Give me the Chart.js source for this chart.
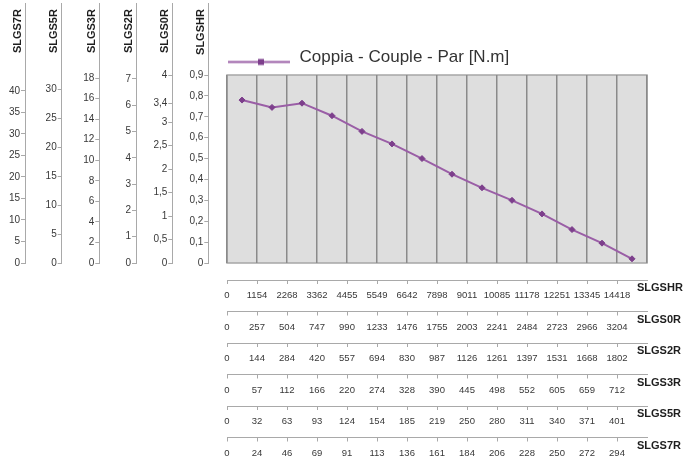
<!DOCTYPE html>
<html><head><meta charset="utf-8">
<script src="https://cdn.jsdelivr.net/npm/chart.js@4/dist/chart.umd.min.js"></script>
<style>
html,body{margin:0;padding:0;background:#fff;width:684px;height:461px;overflow:hidden;position:relative}
canvas{position:absolute}
#ca{left:0;top:-5px}
#cb{left:215px;top:0}
</style></head><body>
<canvas id="ca" width="214" height="275"></canvas>
<canvas id="cb" width="469" height="461"></canvas>
<script>
// ---------- data ----------
const seriesNames = ['SLGSHR', 'SLGS0R', 'SLGS2R', 'SLGS3R', 'SLGS5R', 'SLGS7R'];
const speedHR = [0, 1154, 2268, 3362, 4455, 5549, 6642, 7898, 9011, 10085, 11178, 12251, 13345, 14418];
const speed0R = [0, 257, 504, 747, 990, 1233, 1476, 1755, 2003, 2241, 2484, 2723, 2966, 3204];
const speed2R = [0, 144, 284, 420, 557, 694, 830, 987, 1126, 1261, 1397, 1531, 1668, 1802];
const speed3R = [0, 57, 112, 166, 220, 274, 328, 390, 445, 498, 552, 605, 659, 712];
const speed5R = [0, 32, 63, 93, 124, 154, 185, 219, 250, 280, 311, 340, 371, 401];
const speed7R = [0, 24, 46, 69, 91, 113, 136, 161, 184, 206, 228, 250, 272, 294];
const torqueHR = [0.78, 0.745, 0.765, 0.705, 0.63, 0.57, 0.50, 0.425, 0.36, 0.30, 0.235, 0.16, 0.095, 0.02];
const legendLabel = 'Coppia - Couple - Par [N.m]';

const ticksHR = [0, 0.1, 0.2, 0.3, 0.4, 0.5, 0.6, 0.7, 0.8, 0.9];
const labelsHR = ['0', '0,1', '0,2', '0,3', '0,4', '0,5', '0,6', '0,7', '0,8', '0,9'];
const ticks0R = [0, 0.5, 1, 1.5, 2, 2.5, 3, 3.4, 4];
const labels0R = ['0', '0,5', '1', '1,5', '2', '2,5', '3', '3,4', '4'];
const ticks2R = [0, 1, 2, 3, 4, 5, 6, 7];
const labels2R = ['0', '1', '2', '3', '4', '5', '6', '7'];
const ticks3R = [0, 2, 4, 6, 8, 10, 12, 14, 16, 18];
const labels3R = ['0', '2', '4', '6', '8', '10', '12', '14', '16', '18'];
const ticks5R = [0, 5, 10, 15, 20, 25, 30];
const labels5R = ['0', '5', '10', '15', '20', '25', '30'];
const ticks7R = [0, 5, 10, 15, 20, 25, 30, 35, 40];
const labels7R = ['0', '5', '10', '15', '20', '25', '30', '35', '40'];
// value of each left axis at the top edge of the plot
const axisTop = [0.9, 4, 7.15, 18.3, 32.5, 43.7];

// ---------- styles / layout ----------
const LINE = '#9a5ea6', MARK = '#7d3f8c';
const AXIS = '#a9a9a9', TXT = '#383838', NAME = '#1e1e1e';
Chart.defaults.font.family = "'Liberation Sans', Arial, sans-serif";
Chart.defaults.color = TXT;
const PLOT_TOP = 75, PLOT_BOTTOM = 263, AXIS_LINE_TOP = 3;
const EXT = (PLOT_BOTTOM - AXIS_LINE_TOP) / (PLOT_BOTTOM - PLOT_TOP);

// ---------- left axes chart ----------
const leftDefs = [
  {ticks: ticksHR, labels: labelsHR, w: 36.0},
  {ticks: ticks0R, labels: labels0R, w: 36.3},
  {ticks: ticks2R, labels: labels2R, w: 36.7},
  {ticks: ticks3R, labels: labels3R, w: 37.6},
  {ticks: ticks5R, labels: labels5R, w: 36.7},
  {ticks: ticks7R, labels: labels7R, w: 25.0}
];
const TITLE_SIZE = 11;
const leftScales = {x: {type: 'linear', display: false}};
leftDefs.forEach((d, k) => {
  const padTop = Math.max(0, d.w - 7.5 - TITLE_SIZE * 1.2 / 2);
  leftScales['a' + k] = {
    type: 'linear', position: 'left', weight: k,
    min: 0, max: axisTop[k] * EXT,
    afterBuildTicks: ax => { ax.ticks = d.ticks.map(v => ({value: v})); },
    afterFit: ax => { ax.width = d.w; },
    ticks: {callback: (v, i) => d.labels[i], font: {size: 10}, color: TXT, padding: 1, autoSkip: false},
    grid: {drawOnChartArea: false, tickLength: 4, color: AXIS, lineWidth: 1},
    border: {color: AXIS, width: 1},
    title: {display: true, text: seriesNames[k] + '  ', align: 'end', color: NAME,
            font: {size: TITLE_SIZE, weight: 'bold'}, padding: {top: padTop, bottom: 0}}
  };
});
new Chart(document.getElementById('ca'), {
  type: 'line',
  data: {datasets: []},
  options: {
    responsive: false, animation: false,
    layout: {padding: {left: 0, right: 214 - 208.3, top: 8, bottom: 7}},
    plugins: {legend: {display: false}, tooltip: {enabled: false}},
    scales: leftScales
  }
});

// ---------- main chart ----------
const rows = [speedHR, speed0R, speed2R, speed3R, speed5R, speed7R];
const ROW_H = 31.5, LAST_ROW_H = 23.5, GAP_H = 17;
const mainScales = {
  x: {
    type: 'category', position: 'bottom', weight: 0, offset: true,
    afterFit: ax => { ax.height = GAP_H; },
    ticks: {display: false},
    grid: {offset: true, drawTicks: false, color: '#8a8a8a', lineWidth: 1.5},
    border: {display: false}
  },
  y: {type: 'linear', display: false, min: 0, max: axisTop[0]}
};
rows.forEach((labels, k) => {
  mainScales['b' + k] = {
    type: 'linear', position: 'bottom', weight: k + 1,
    min: 0, max: torqueHR.length,
    afterBuildTicks: ax => { ax.ticks = labels.map((_, i) => ({value: i})); },
    afterFit: ax => { ax.height = (k === rows.length - 1) ? LAST_ROW_H : ROW_H; },
    ticks: {callback: (v, i) => String(labels[i]), font: {size: 9.5}, color: TXT, padding: 6,
            autoSkip: false, maxRotation: 0, minRotation: 0},
    grid: {drawOnChartArea: false, tickLength: 4, color: AXIS, lineWidth: 1},
    border: {color: AXIS, width: 1},
    title: {display: false, text: seriesNames[k]}
  };
});

const plotBg = {
  id: 'plotBg',
  beforeDraw(chart) {
    const {ctx, chartArea: a} = chart;
    ctx.save();
    ctx.fillStyle = '#dedede';
    ctx.fillRect(a.left, a.top, a.width, a.height);
    ctx.strokeStyle = '#a6a6a6';
    ctx.lineWidth = 1.5;
    ctx.strokeRect(a.left, a.top, a.width, a.height);
    ctx.restore();
  }
};
const axisNames = {
  id: 'axisNames',
  afterDraw(chart) {
    const {ctx, chartArea: a} = chart;
    ctx.save();
    ctx.font = "bold 11px 'Liberation Sans', Arial, sans-serif";
    ctx.fillStyle = NAME;
    ctx.textAlign = 'left';
    ctx.textBaseline = 'middle';
    rows.forEach((_, k) => {
      const s = chart.scales['b' + k];
      ctx.fillText(s.options.title.text, a.right - 10, s.top + 8);
    });
    ctx.restore();
  }
};

const legendImg = document.createElement('canvas');
legendImg.width = 64; legendImg.height = 18;
(() => {
  const g = legendImg.getContext('2d');
  g.strokeStyle = LINE; g.lineWidth = 2;
  g.beginPath(); g.moveTo(1, 13.5); g.lineTo(63, 13.5); g.stroke();
  g.fillStyle = MARK; g.fillRect(31, 10.5, 6, 6);
})();

new Chart(document.getElementById('cb'), {
  type: 'line',
  data: {
    labels: speedHR,
    datasets: [{
      label: legendLabel, data: torqueHR, xAxisID: 'x', yAxisID: 'y',
      borderColor: LINE, borderWidth: 2, tension: 0,
      pointStyle: 'rectRot', pointRadius: 3, pointBackgroundColor: MARK, pointBorderColor: MARK, pointBorderWidth: 1
    }]
  },
  options: {
    responsive: false, animation: false,
    layout: {padding: {left: 12, right: 37, top: PLOT_TOP - 26, bottom: 0}},
    plugins: {
      tooltip: {enabled: false},
      legend: {
        display: true, position: 'top', align: 'start', maxHeight: 26,
        labels: {usePointStyle: true, pointStyle: legendImg, pointStyleWidth: 64, padding: 0,
                 color: '#333', font: {family: "'Liberation Sans', Arial, sans-serif", size: 17}}
      }
    },
    scales: mainScales
  },
  plugins: [plotBg, axisNames]
});
</script>
</body></html>
